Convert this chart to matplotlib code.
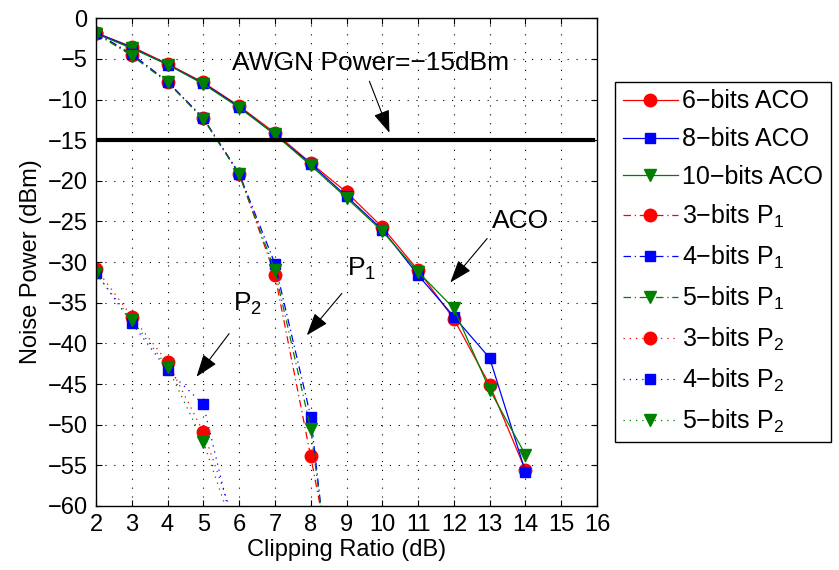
import numpy as np
import matplotlib
matplotlib.use("Agg")
from matplotlib import pyplot as plt

plt.rcParams['font.family'] = ['Liberation Sans', 'DejaVu Sans']
plt.rcParams['mathtext.fontset'] = 'custom'
plt.rcParams['mathtext.rm'] = 'Liberation Sans'

# clipping ratio (dB)
x_aco = [2, 3, 4, 5, 6, 7, 8, 9, 10, 11, 12, 13, 14]
x_p1 = [2, 3, 4, 5, 6, 7, 8, 9]
x_p2 = [2, 3, 4, 5, 6]

# noise power (dBm)
aco_6 = [-1.8, -3.5, -5.6, -7.9, -10.8, -14.1, -17.8, -21.4, -25.7, -31.0, -37.0, -45.1, -55.6]
aco_8 = [-1.8, -3.6, -5.7, -8.0, -10.9, -14.3, -17.9, -21.9, -26.0, -31.6, -36.7, -41.8, -55.8]
aco_10 = [-1.9, -3.7, -5.7, -8.1, -11.0, -14.3, -18.1, -22.1, -26.2, -31.2, -35.7, -45.7, -53.7]

p1_3 = [-1.8, -4.5, -7.8, -12.3, -19.1, -31.6, -53.9, -77.0]
p1_4 = [-1.8, -4.4, -7.8, -12.3, -19.1, -30.2, -49.0, -88.0]
p1_5 = [-1.9, -4.6, -7.9, -12.4, -19.2, -31.0, -50.5, -85.0]

p2_3 = [-30.8, -36.7, -42.3, -50.9, -63.5]
p2_4 = [-31.3, -37.5, -43.3, -47.5, -66.0]
p2_5 = [-31.4, -37.1, -42.9, -52.1, -65.0]

awgn = -15

red, blue, green = '#ff0000', '#0000ff', '#008000'
sub1 = 'P$_\\mathregular{1}$'
sub2 = 'P$_\\mathregular{2}$'

fig = plt.figure(figsize=(8.39, 5.70), dpi=100)
ax = fig.add_axes([0.1144, 0.1123, 0.5972, 0.8557])

ax.plot(x_aco, aco_6, '-', color=red, marker='o', ms=9, lw=0.9, label='6\u2212bits ACO')
ax.plot(x_aco, aco_8, '-', color=blue, marker='s', ms=7, lw=0.9, label='8\u2212bits ACO')
ax.plot(x_aco, aco_10, '-', color=green, marker='v', ms=9, lw=0.9, label='10\u2212bits ACO')

dashdot = (0, (6, 3, 1, 3))
ax.plot(x_p1, p1_3, color=red, ls=dashdot, marker='o', ms=9, lw=0.9, label='3\u2212bits ' + sub1)
ax.plot(x_p1, p1_4, color=blue, ls=dashdot, marker='s', ms=7, lw=0.9, label='4\u2212bits ' + sub1)
ax.plot(x_p1, p1_5, color=green, ls=dashdot, marker='v', ms=9, lw=0.9, label='5\u2212bits ' + sub1)

dotted = (0, (1, 4))
ax.plot(x_p2, p2_3, color=red, ls=dotted, marker='o', ms=9, lw=0.9, label='3\u2212bits ' + sub2)
ax.plot(x_p2, p2_4, color=blue, ls=dotted, marker='s', ms=7, lw=0.9, label='4\u2212bits ' + sub2)
ax.plot(x_p2, p2_5, color=green, ls=dotted, marker='v', ms=9, lw=0.9, label='5\u2212bits ' + sub2)

ax.plot([2, 15.9], [awgn, awgn], '-', color='k', lw=3)

ax.set_xlim(2, 16)
ax.set_ylim(-60, 0)
ax.set_xticks(np.arange(2, 17, 1))
ax.set_yticks(np.arange(-60, 1, 5))
ax.tick_params(direction='in', top=True, right=True, length=4, labelsize=17, pad=6)
ax.grid(True, color='k', linestyle=(0, (1, 7)), lw=0.8)
for s in ax.spines.values():
    s.set_linewidth(1.0)

ax.set_xlabel('Clipping Ratio (dB)', fontsize=17, labelpad=2)
ax.set_ylabel('Noise Power (dBm)', fontsize=17, labelpad=4)

arrow = dict(arrowstyle='-|>,head_length=0.7,head_width=0.25', color='k', lw=0.8,
             mutation_scale=20, shrinkA=0, shrinkB=0)
ax.text(5.79, -6.4, 'AWGN Power=\u221215dBm', fontsize=19)
ax.annotate('', xy=(10.2, -14.1), xytext=(9.64, -7.75), arrowprops=arrow)
ax.text(13.05, -25.8, 'ACO', fontsize=19)
ax.annotate('', xy=(11.9, -32.5), xytext=(12.93, -27.1), arrowprops=arrow)
ax.text(9.02, -31.6, sub1, fontsize=19)
ax.annotate('', xy=(7.89, -39.0), xytext=(8.87, -33.85), arrowprops=arrow)
ax.text(5.83, -35.9, sub2, fontsize=19)
ax.annotate('', xy=(4.81, -44.1), xytext=(5.72, -38.8), arrowprops=arrow)

leg = fig.legend(loc='upper left', bbox_to_anchor=(615 / 839, 1 - 82 / 570), fontsize=18,
                 handlelength=2.2, handletextpad=0.2, borderpad=0.3, borderaxespad=0,
                 labelspacing=0.55, fancybox=False, edgecolor='k', framealpha=1)
leg.get_frame().set_linewidth(1.0)

fig.savefig('out.png', dpi=100)
